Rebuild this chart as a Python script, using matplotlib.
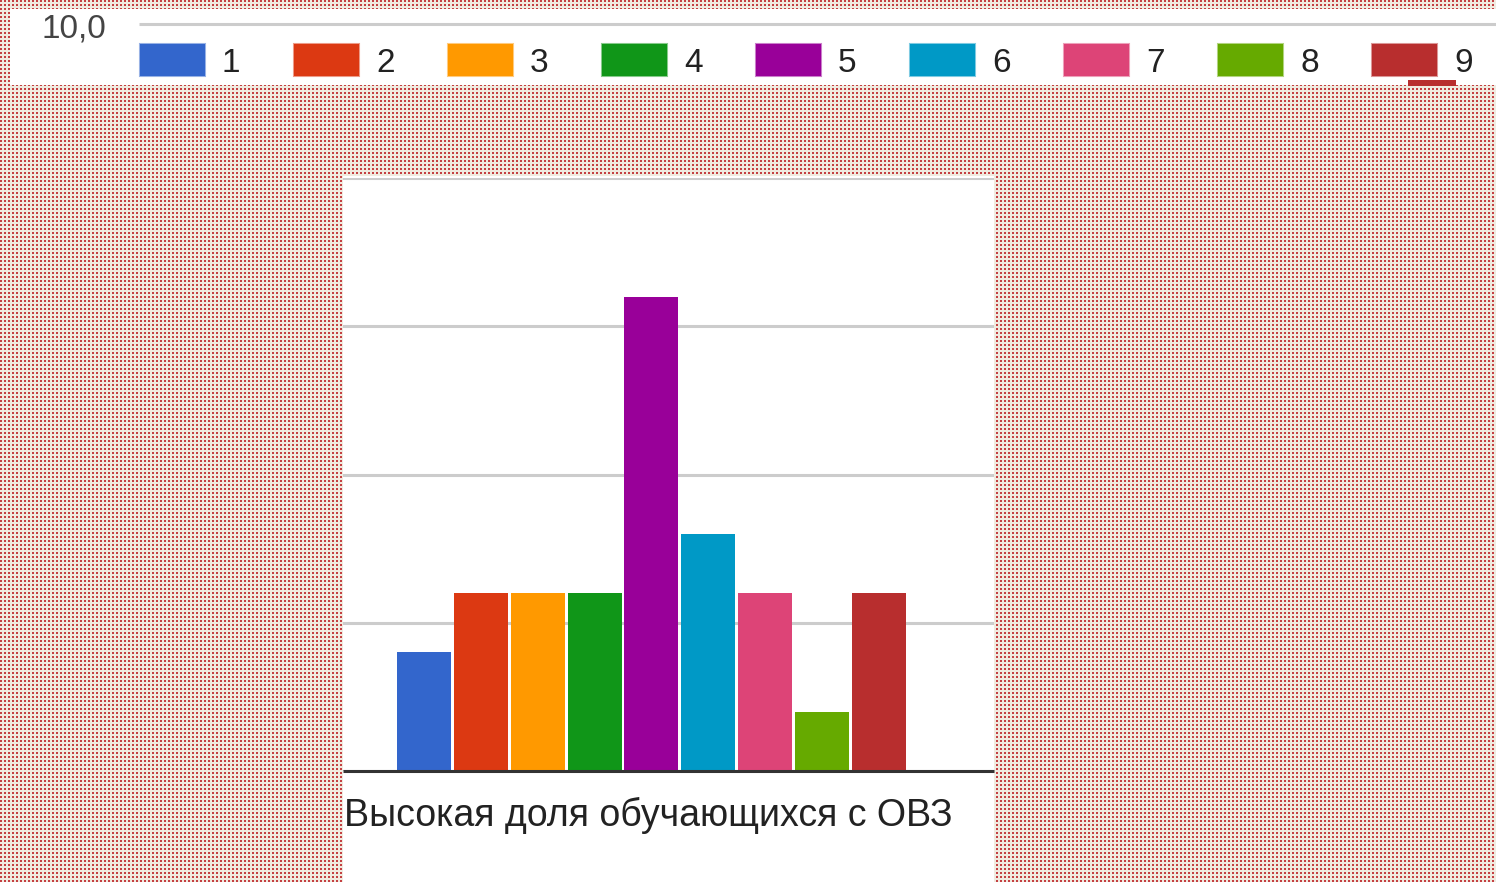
import numpy as np
import matplotlib
matplotlib.use("Agg")
import matplotlib.pyplot as plt
from matplotlib.patches import Rectangle
from matplotlib.colors import to_rgba

# data
categories = ["1", "2", "3", "4", "5", "6", "7", "8", "9"]
values = [2, 3, 3, 3, 8, 4, 3, 1, 3]
colors = ["#3366cc", "#dc3912", "#ff9900", "#109618", "#990099",
          "#0099c6", "#dd4477", "#66aa00", "#b82e2e"]
y_ticks = [0, 2.5, 5, 7.5, 10]
top_label = "10,0"
x_label = "Высокая доля обучающихся с ОВЗ"

W, H = 1496, 882
plt.rcParams["font.family"] = ["Liberation Sans", "DejaVu Sans"]

fig = plt.figure(figsize=(W / 100, H / 100), dpi=100)


def box(x0, y0, x1, y1):
    # pixel box (top-left origin) -> figure fraction
    return [x0 / W, 1 - y1 / H, (x1 - x0) / W, (y1 - y0) / H]


# dotted red background: 2x2 red dots every 4 px on cream
bg = np.ones((H, W, 3))
bg[:, :] = np.array([240, 235, 224]) / 255
mask = np.zeros((H, W), bool)
for dr in range(2):
    for dc in range(2):
        mask[dr::4, dc::4] = True
bg[mask] = np.array([196, 64, 66]) / 255
fig.figimage(bg, 0, 0, origin="upper", zorder=-5)

# top white band with clipped legend
band = fig.add_axes(box(10, 9, W, 85))
band.set_facecolor("white")
band.set_xlim(10, W)
band.set_ylim(85, 9)
for s in band.spines.values():
    s.set_visible(False)
band.set_xticks([])
band.set_yticks([])
band.plot([139, W], [24, 24], color="#cccccc", lw=2.2, solid_capstyle="butt")
band.text(42, 38, top_label, fontsize=24, color="#444444", va="baseline", ha="left")
for i, (cat, col) in enumerate(zip(categories, colors)):
    x0 = 140 + i * 154
    band.add_patch(Rectangle((x0, 44), 65, 32, facecolor=col,
                             edgecolor=to_rgba(col, 0.5), lw=1.5))
    band.text(x0 + 82, 72, cat, fontsize=24, color="#222222", va="baseline", ha="left")
band.add_patch(Rectangle((1408, 80), 48, 6, facecolor=colors[-1], edgecolor="none",
                         clip_on=False))

# white chart panel
panel = fig.add_axes(box(343, 176, 994, H))
panel.set_facecolor("white")
for s in panel.spines.values():
    s.set_visible(False)
panel.set_xticks([])
panel.set_yticks([])

# bars
ax = fig.add_axes(box(343, 178, 994, 771))
ax.patch.set_alpha(0)
x = np.arange(len(categories))
ax.bar(x, values, width=0.95, color=colors, zorder=3)
ax.set_xlim(-1.43, 10.03)
ax.set_ylim(y_ticks[0], y_ticks[-1])
ax.set_yticks(y_ticks)
ax.set_yticklabels([])
ax.set_xticks([])
ax.tick_params(length=0)
ax.yaxis.grid(True, color="#cccccc", lw=2.2)
for s in ["left", "right", "top"]:
    ax.spines[s].set_visible(False)
ax.spines["bottom"].set_color("#333333")
ax.spines["bottom"].set_linewidth(2.2)
ax.spines["bottom"].set_capstyle("butt")
ax.spines["bottom"].set_zorder(4)

fig.text(344 / W, 1 - 826 / H, x_label, fontsize=27, color="#222222",
         va="baseline", ha="left")

fig.savefig("out.png", dpi=100)
